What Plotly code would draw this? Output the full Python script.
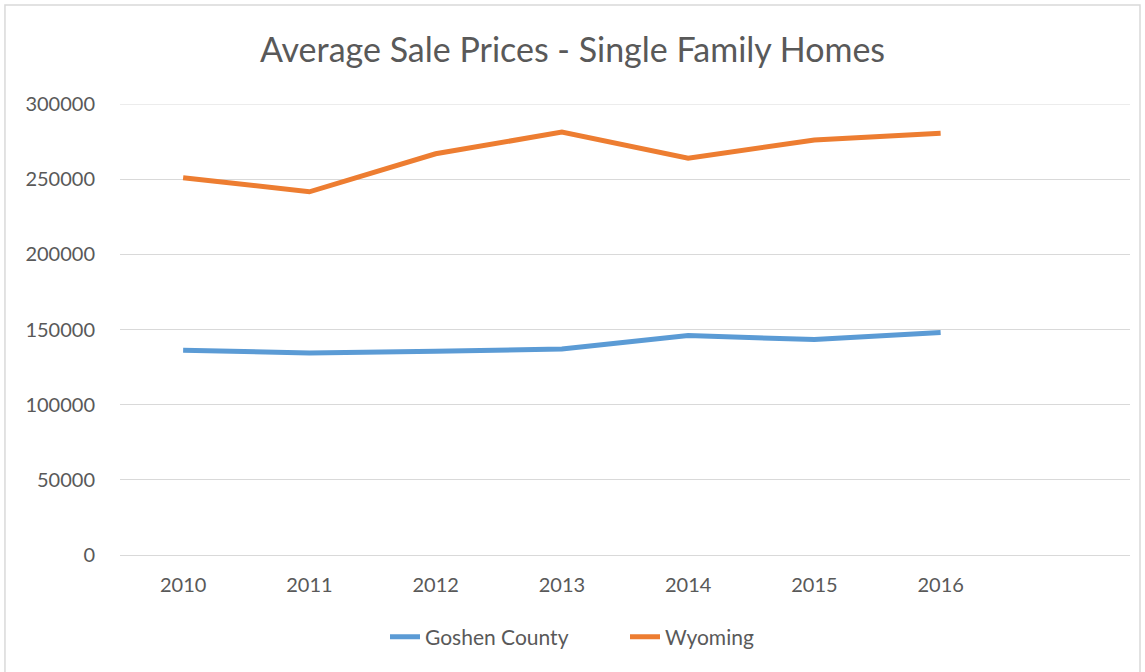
import plotly.graph_objects as go

years = ["2010", "2011", "2012", "2013", "2014", "2015", "2016"]
goshen = [136200, 134400, 135500, 137100, 146000, 143300, 148000]
wyoming = [251000, 241600, 266900, 281300, 264000, 276000, 280500]

idx = list(range(len(years)))
font = "Lato, 'Open Sans', sans-serif"
grey = "#595959"
grid = "#d9d9d9"

fig = go.Figure()
fig.add_trace(go.Scatter(x=idx, y=goshen, mode="lines", name="Goshen County",
                         line=dict(color="#5B9BD5", width=5)))
fig.add_trace(go.Scatter(x=idx, y=wyoming, mode="lines", name="Wyoming",
                         line=dict(color="#ED7D31", width=5)))

fig.update_layout(
    width=1145, height=672,
    margin=dict(l=120, r=15, t=104, b=117),
    paper_bgcolor="white", plot_bgcolor="white",
    title=dict(text="Average Sale Prices - Single Family Homes", x=0.5, xanchor="center",
               y=0.926, yanchor="middle",
               font=dict(family=font, size=34, color=grey)),
    font=dict(family=font, color=grey),
    showlegend=True,
    legend=dict(orientation="h", x=0.5, xanchor="center", y=-0.182, yanchor="middle",
                font=dict(size=21, color=grey), traceorder="normal", entrywidth=195),
)
fig.update_xaxes(tickvals=idx, ticktext=years, range=[-0.5, len(years) + 0.5],
                 showgrid=False, zeroline=False, showline=False,
                 ticklabelstandoff=16, tickfont=dict(size=20, color=grey))
fig.update_yaxes(range=[0, 300000], dtick=50000, tickformat="d",
                 showgrid=True, gridcolor=grid, gridwidth=1,
                 zeroline=True, zerolinecolor=grid, zerolinewidth=1,
                 showline=False, ticklabelstandoff=24,
                 tickfont=dict(size=20, color=grey))

# top gridline sits on the range edge, draw it explicitly
fig.add_hline(y=300000, line=dict(color=grid, width=1), layer="below")

# chart outer border
fig.add_shape(type="rect", xref="paper", yref="paper",
              x0=-0.1139, x1=1.0099, y0=-0.5, y1=1.2195,
              line=dict(color=grid, width=1.5), fillcolor="rgba(0,0,0,0)", layer="below")

# drop the default page margin so the figure fills the window
fig.write_html("out.html", config={"displayModeBar": False},
               post_script="document.body.style.margin='0';")
